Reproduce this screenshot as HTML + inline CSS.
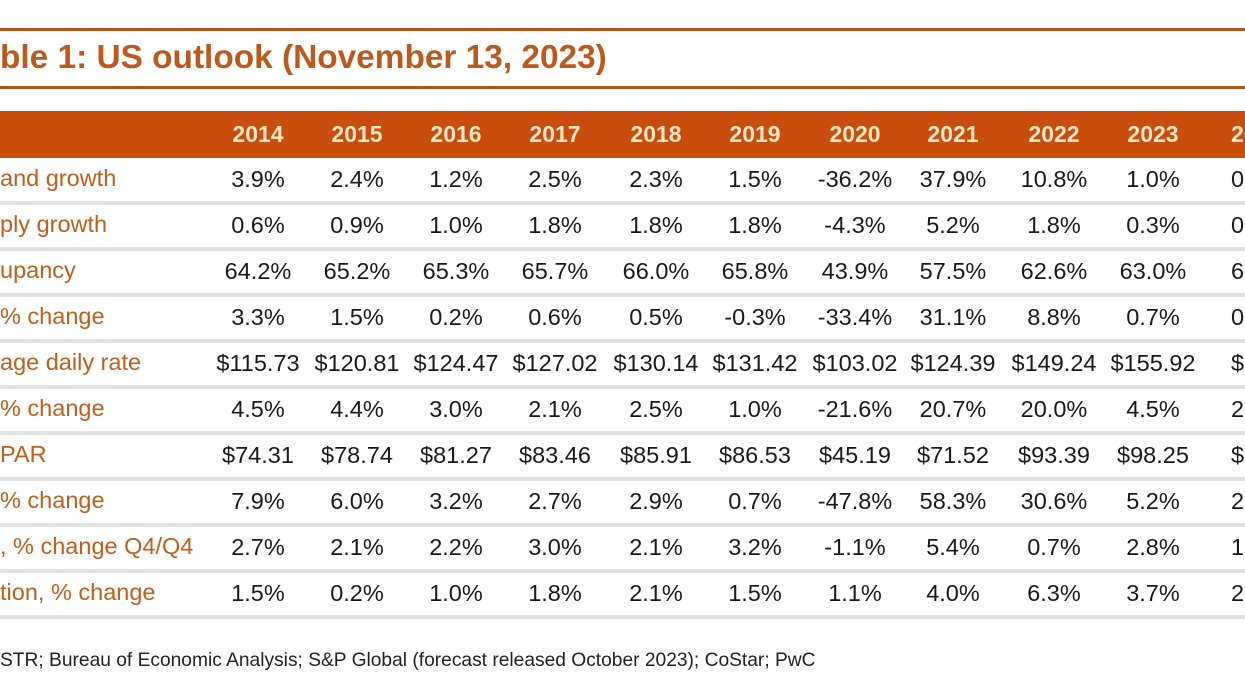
<!DOCTYPE html>
<html><head><style>
body{margin:0;width:1245px;height:700px;background:#fff;position:relative;overflow:hidden;font-family:"Liberation Sans",Arial,sans-serif}
.a{position:absolute;white-space:nowrap}
.rule{position:absolute;left:0;width:1245px;height:3px;background:#b5561c}
.hdr{position:absolute;left:0;top:111px;width:1245px;height:47px;background:#c94d0d}
.sep{position:absolute;left:0;width:1245px;height:4px;background:#e2e2e2}
.y{position:absolute;top:121px;font-size:23px;font-weight:bold;color:#fbe6c4;width:120px;text-align:center;white-space:nowrap}
.lab{position:absolute;left:0;font-size:23.5px;color:#c05f1c;white-space:nowrap}
.v{position:absolute;font-size:23.5px;color:#1a1a1a;width:120px;text-align:center;white-space:nowrap}
.l{text-align:left!important}
</style></head><body>
<div class="rule" style="top:28px"></div>
<div class="rule" style="top:86px"></div>
<div class="a" style="left:0;top:39px;font-size:33.4px;font-weight:bold;color:#bb5a1c">ble 1: US outlook (November 13, 2023)</div>
<div class="hdr"></div>
<div id="c"></div>
<div class="a" style="left:0;top:650px;font-size:19.2px;color:#222">STR; Bureau of Economic Analysis; S&amp;P Global (forecast released October 2023); CoStar; PwC</div>
<script>
var xs=[258,357,456,555,656,755,855,953,1054,1153];
var ys=["2014","2015","2016","2017","2018","2019","2020","2021","2022","2023","20"];
var labs=["and growth","ply growth","upancy","% change","age daily rate","% change","PAR","% change",", % change Q4/Q4","tion, % change"];
var d=[
["3.9%","2.4%","1.2%","2.5%","2.3%","1.5%","-36.2%","37.9%","10.8%","1.0%","0."],
["0.6%","0.9%","1.0%","1.8%","1.8%","1.8%","-4.3%","5.2%","1.8%","0.3%","0."],
["64.2%","65.2%","65.3%","65.7%","66.0%","65.8%","43.9%","57.5%","62.6%","63.0%","63"],
["3.3%","1.5%","0.2%","0.6%","0.5%","-0.3%","-33.4%","31.1%","8.8%","0.7%","0."],
["$115.73","$120.81","$124.47","$127.02","$130.14","$131.42","$103.02","$124.39","$149.24","$155.92","$15"],
["4.5%","4.4%","3.0%","2.1%","2.5%","1.0%","-21.6%","20.7%","20.0%","4.5%","2."],
["$74.31","$78.74","$81.27","$83.46","$85.91","$86.53","$45.19","$71.52","$93.39","$98.25","$10"],
["7.9%","6.0%","3.2%","2.7%","2.9%","0.7%","-47.8%","58.3%","30.6%","5.2%","2."],
["2.7%","2.1%","2.2%","3.0%","2.1%","3.2%","-1.1%","5.4%","0.7%","2.8%","1."],
["1.5%","0.2%","1.0%","1.8%","2.1%","1.5%","1.1%","4.0%","6.3%","3.7%","2."]];
var h="";
for(var j=0;j<10;j++)h+='<div class="y" style="left:'+(xs[j]-60)+'px">'+ys[j]+'</div>';
h+='<div class="y l" style="left:1231px">20</div>';
for(var i=0;i<10;i++){var t=166+i*46;
h+='<div class="lab" style="top:'+(t-1)+'px">'+labs[i]+'</div>';
for(var j=0;j<10;j++)h+='<div class="v" style="left:'+(xs[j]-60)+'px;top:'+t+'px">'+d[i][j]+'</div>';
h+='<div class="v l" style="left:1231px;top:'+t+'px">'+d[i][10]+'</div>';
h+='<div class="sep" style="top:'+(201+i*46)+'px"></div>';}
document.getElementById("c").innerHTML=h;
</script>
</body></html>
